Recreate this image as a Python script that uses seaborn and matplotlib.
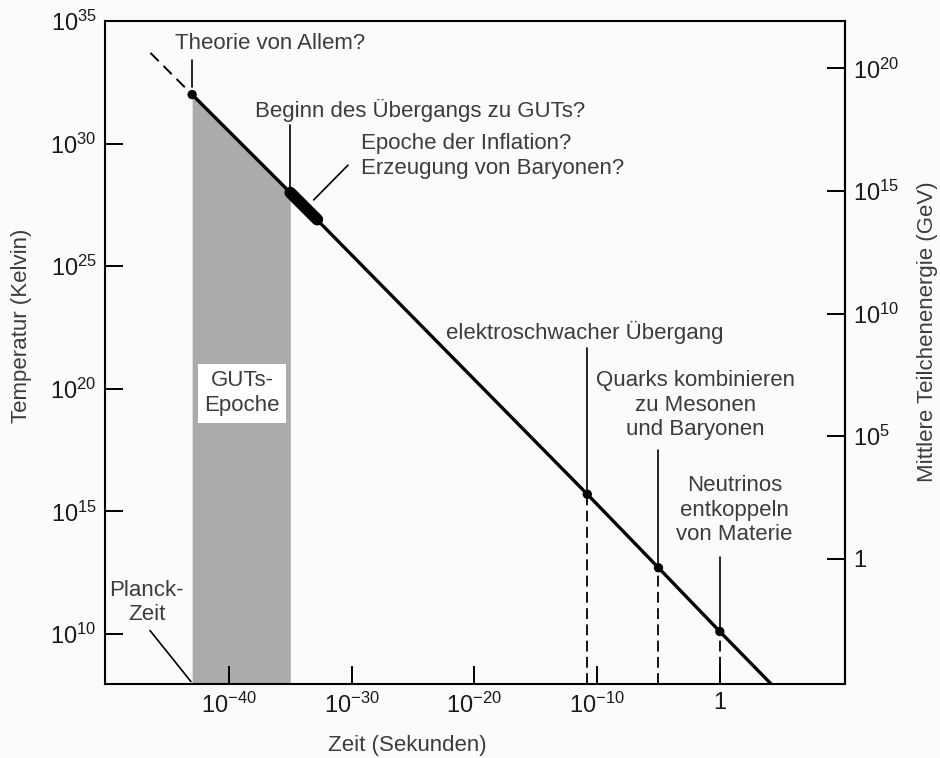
import numpy as np
import matplotlib
matplotlib.use("Agg")
import matplotlib.pyplot as plt
import seaborn as sns
from matplotlib.ticker import FixedLocator, NullLocator

# Werte als Zehnerpotenzen
# Zeit (Sekunden) -> Temperatur (Kelvin)
zeit_exp = [-43, -35, -10.8, -5, 0, 4.3]
temp_exp = [32.0, 28.0, 15.7, 12.7, 10.1, 7.9]

# gestrichelte Verlaengerung vor der Planck-Zeit
ext_zeit_exp = [-46.4, -43]
ext_temp_exp = [33.7, 32.0]

# Epoche der Inflation (dicker Abschnitt)
infl_zeit_exp = [-35, -32.8]
infl_temp_exp = [28.0, 26.9]

# Punkte: Theorie von Allem, elektroschwach, Quarks, Neutrinos
punkt_zeit_exp = [-43, -10.8, -5, 0]
punkt_temp_exp = [32.0, 15.7, 12.7, 10.1]

# GUTs-Epoche (grau)
guts_zeit_exp = [-43, -35]
guts_temp_exp = [32.0, 28.0]

x_ticks_exp = [-40, -30, -20, -10, 0]
y_ticks_exp = [10, 15, 20, 25, 30, 35]
e_ticks_exp = [0, 5, 10, 15, 20]

K_IN_GEV = 8.617e-14  # Boltzmann-Konstante in GeV/K

x_lim = (-50.1, 10.2)
y_lim = (7.96, 35.0)


def p(e):
    return np.power(10.0, np.asarray(e, dtype=float))


def lbl(e):
    return "1" if e == 0 else r"$\mathregular{10^{%d}}$" % e


sns.set_theme(style="white")
plt.rcParams["font.family"] = ["Liberation Sans", "DejaVu Sans"]
plt.rcParams["mathtext.fontset"] = "custom"
plt.rcParams["mathtext.rm"] = "Liberation Sans"
plt.rcParams["mathtext.it"] = "Liberation Sans:italic"
plt.rcParams["mathtext.bf"] = "Liberation Sans:bold"

bg = "#fbfbfb"
txt = "#3c3c3c"
fig = plt.figure(figsize=(9.4, 7.58), dpi=100, facecolor=bg)
ax = fig.add_axes([105 / 940, 1 - 684 / 758, 740 / 940, 663 / 758], facecolor=bg)
ax.set_xscale("log")
ax.set_yscale("log")
ax.set_xlim(p(x_lim[0]), p(x_lim[1]))
ax.set_ylim(p(y_lim[0]), p(y_lim[1]))
ax.set_axisbelow(False)

# GUTs-Epoche
ax.fill_between(p(guts_zeit_exp), p(guts_temp_exp), p(y_lim[0]),
                color="#ababab", lw=0, zorder=1)

# Hauptlinie
sns.lineplot(x=p(zeit_exp), y=p(temp_exp), ax=ax, color="black", lw=2.4,
             sort=False, zorder=3)
sns.lineplot(x=p(ext_zeit_exp), y=p(ext_temp_exp), ax=ax, color="black",
             lw=1.4, sort=False, zorder=3)
ax.lines[-1].set_dashes((6, 3.5))
ax.plot(p(infl_zeit_exp), p(infl_temp_exp), color="black", lw=8.5,
        solid_capstyle="round", zorder=4)
sns.scatterplot(x=p(punkt_zeit_exp), y=p(punkt_temp_exp), ax=ax,
                color="black", s=45, edgecolor="none", zorder=5)

# gestrichelte Lote
ax.vlines(p(punkt_zeit_exp[1:]), p(y_lim[0]), p(punkt_temp_exp[1:]),
          colors="black", lw=1.3, linestyles=(0, (6, 3)), zorder=2)

# Achsen
ax.xaxis.set_major_locator(FixedLocator(p(x_ticks_exp)))
ax.xaxis.set_minor_locator(NullLocator())
ax.set_xticklabels([lbl(e) for e in x_ticks_exp])
ax.yaxis.set_major_locator(FixedLocator(p(y_ticks_exp)))
ax.yaxis.set_minor_locator(NullLocator())
ax.set_yticklabels([lbl(e) for e in y_ticks_exp])
ax.tick_params(left=True, bottom=True, right=False, top=False,
               direction="in", length=13, width=1.4, labelsize=17,
               labelcolor="#1a1a1a", pad=6, color="black")
for s in ax.spines.values():
    s.set_color("black")
    s.set_linewidth(1.5)

sec = ax.secondary_yaxis("right", functions=(lambda t: t * K_IN_GEV,
                                             lambda e: e / K_IN_GEV))
sec.yaxis.set_major_locator(FixedLocator(p(e_ticks_exp)))
sec.yaxis.set_minor_locator(NullLocator())
sec.set_yticklabels([lbl(e) for e in e_ticks_exp])
sec.tick_params(right=True, direction="in", length=13, width=1.4,
                labelsize=17, labelcolor="#1a1a1a", pad=6, color="black")
sec.spines["right"].set_linewidth(1.5)

# Achsentitel
fig.text(407 / 940, 1 - 745 / 758, "Zeit (Sekunden)", ha="center",
         va="center", fontsize=16, color=txt)
fig.text(22 / 940, 1 - 326 / 758, "Temperatur (Kelvin)", rotation=90,
         ha="center", va="center", fontsize=16, color=txt)
fig.text(928 / 940, 1 - 332 / 758, "Mittlere Teilchenenergie (GeV)",
         rotation=90, ha="center", va="center", fontsize=16, color=txt)

# Beschriftungen
kw = dict(fontsize=16, color=txt, linespacing=1.22, zorder=6)
lead = dict(color="black", lw=1.2, zorder=2)

ax.text(p(-44.4), p(34.1), "Theorie von Allem?", ha="left", va="center", **kw)
ax.plot(p([-43, -43]), p([33.4, 32.3]), **lead)

ax.text(p(-37.9), p(31.37), "Beginn des Übergangs zu GUTs?", ha="left",
        va="center", **kw)
ax.plot(p([-35, -35]), p([30.76, 28.2]), **lead)

ax.text(p(-29.2), p(29.49), "Epoche der Inflation?\nErzeugung von Baryonen?",
        ha="left", va="center", **kw)
ax.plot(p([-30.3, -33.1]), p([29.12, 27.7]), **lead)

ax.text(p(-22.3), p(22.31), "elektroschwacher Übergang", ha="left",
        va="center", **kw)
ax.plot(p([-10.8, -10.8]), p([21.65, 15.7]), **lead)

ax.text(p(-2.0), p(19.33), "Quarks kombinieren\nzu Mesonen\nund Baryonen",
        ha="center", va="center", multialignment="center", **kw)
ax.plot(p([-5, -5]), p([17.49, 12.7]), **lead)

ax.text(p(1.2), p(15.04), "Neutrinos\nentkoppeln\nvon Materie",
        ha="center", va="center", multialignment="center", **kw)
ax.plot(p([0, 0]), p([13.12, 10.1]), **lead)

ax.text(p(-46.7), p(11.29), "Planck-\nZeit", ha="center", va="center",
        multialignment="center", **kw)
ax.plot(p([-46.43, -43.1]), p([10.14, 8.06]), **lead)

ax.text(p(-38.94), p(19.82), "GUTs-\nEpoche", ha="center", va="center",
        multialignment="center",
        bbox=dict(boxstyle="square,pad=0.3", fc="white", ec="none"), **kw)

fig.savefig("out.png", dpi=100, facecolor=bg)
